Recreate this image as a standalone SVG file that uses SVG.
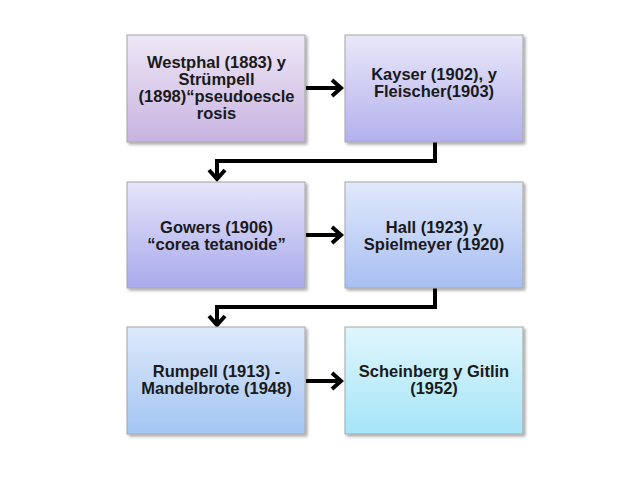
<svg xmlns="http://www.w3.org/2000/svg" width="638" height="479" viewBox="0 0 638 479">
<defs>
  <linearGradient id="g1" x1="0" y1="0" x2="0" y2="1"><stop offset="0" stop-color="#eee7f5"/><stop offset="1" stop-color="#c8b3e1"/></linearGradient>
  <linearGradient id="g2" x1="0" y1="0" x2="0" y2="1"><stop offset="0" stop-color="#e9e8f9"/><stop offset="1" stop-color="#b3b1ed"/></linearGradient>
  <linearGradient id="g3" x1="0" y1="0" x2="0" y2="1"><stop offset="0" stop-color="#e5e5fa"/><stop offset="1" stop-color="#a9a9ec"/></linearGradient>
  <linearGradient id="g4" x1="0" y1="0" x2="0" y2="1"><stop offset="0" stop-color="#e1e9fb"/><stop offset="1" stop-color="#a8bff3"/></linearGradient>
  <linearGradient id="g5" x1="0" y1="0" x2="0" y2="1"><stop offset="0" stop-color="#dde9fb"/><stop offset="1" stop-color="#a3c5f3"/></linearGradient>
  <linearGradient id="g6" x1="0" y1="0" x2="0" y2="1"><stop offset="0" stop-color="#e0f6fd"/><stop offset="1" stop-color="#a5e5f8"/></linearGradient>
  <filter id="sh" x="-10%" y="-10%" width="125%" height="125%">
    <feGaussianBlur in="SourceAlpha" stdDeviation="1.5"/>
    <feOffset dx="1.5" dy="2" result="b"/>
    <feComponentTransfer><feFuncA type="linear" slope="0.35"/></feComponentTransfer>
    <feMerge><feMergeNode/><feMergeNode in="SourceGraphic"/></feMerge>
  </filter>
  <marker id="chev" markerUnits="userSpaceOnUse" markerWidth="16" markerHeight="20" refX="11" refY="10" orient="auto" viewBox="0 0 16 20">
    <path d="M2,2 L11,10 L2,18" fill="none" stroke="#000" stroke-width="4" stroke-linejoin="miter" stroke-linecap="butt"/>
  </marker>
</defs>
<style>
  .box { stroke: #a6a6a6; stroke-width: 1; filter: url(#sh); }
  .t { font-family: "Liberation Sans", Arial, sans-serif; font-weight: bold; font-size: 16.5px; fill: #1a1a1a; text-anchor: middle; }
  .c { fill: none; stroke: #000; stroke-width: 4; stroke-linejoin: miter; marker-end: url(#chev); }
</style>
<rect width="638" height="479" fill="#ffffff"/>
<g id="connectors">
  <path class="c" d="M306,88 L341,88"/>
  <path class="c" d="M435,142 L435,161 L217,161 L217,179"/>
  <path class="c" d="M306,235 L341,235"/>
  <path class="c" d="M435,288 L435,307 L217,307 L217,325"/>
  <path class="c" d="M306,381 L341,381"/>
</g>
<g id="n1">
  <rect class="box" x="127" y="35" width="178" height="107" fill="url(#g1)"/>
  <text class="t" x="216.5" y="68">Westphal (1883) y<tspan x="216.5" dy="17">Strümpell</tspan><tspan x="216.5" dy="17">(1898)“pseudoescle</tspan><tspan x="216.5" dy="17">rosis</tspan></text>
</g>
<g id="n2">
  <rect class="box" x="345" y="35" width="178" height="107" fill="url(#g2)"/>
  <text class="t" x="434" y="80">Kayser (1902), y<tspan x="434" dy="17">Fleischer(1903)</tspan></text>
</g>
<g id="n3">
  <rect class="box" x="127" y="182" width="178" height="106" fill="url(#g3)"/>
  <text class="t" x="216.5" y="233">Gowers (1906)<tspan x="216.5" dy="17">“corea tetanoide”</tspan></text>
</g>
<g id="n4">
  <rect class="box" x="345" y="182" width="178" height="106" fill="url(#g4)"/>
  <text class="t" x="434" y="233">Hall (1923) y<tspan x="434" dy="17">Spielmeyer (1920)</tspan></text>
</g>
<g id="n5">
  <rect class="box" x="127" y="327" width="178" height="107" fill="url(#g5)"/>
  <text class="t" x="216.5" y="377">Rumpell (1913) -<tspan x="216.5" dy="17">Mandelbrote (1948)</tspan></text>
</g>
<g id="n6">
  <rect class="box" x="345" y="327" width="178" height="107" fill="url(#g6)"/>
  <text class="t" x="434" y="377">Scheinberg y Gitlin<tspan x="434" dy="17">(1952)</tspan></text>
</g>
</svg>
